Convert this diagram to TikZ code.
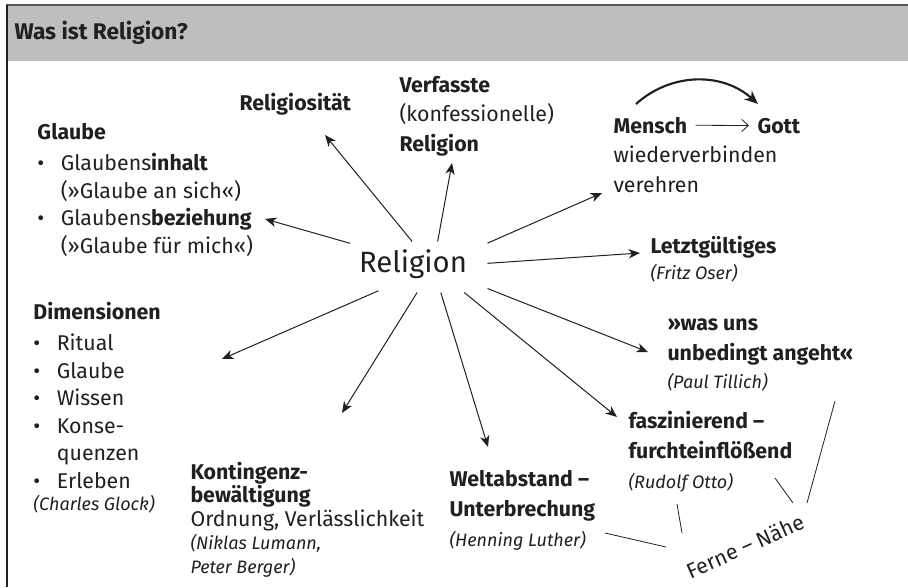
\documentclass[tikz,border=0pt]{standalone}
\usepackage{fontspec}
\setmainfont{Fira Sans}
\usetikzlibrary{arrows.meta}

\definecolor{headgrey}{RGB}{189,190,192}
\definecolor{frame}{RGB}{88,88,90}
\definecolor{ink}{RGB}{35,31,32}

\newcommand\bitem[1]{\makebox[17.5pt][l]{\textbullet}#1}
\newcommand\bcont[1]{\hspace*{17.5pt}#1}
\newcommand\quelle[1]{{\fontsize{13.5}{16}\selectfont\itshape #1}}

\tikzset{every picture/.style={line width=0.75pt}}
\tikzset{
  txt/.style={anchor=base west, inner sep=0pt, align=left, text=ink, font=\fontsize{16}{20.6}\selectfont},
  hubbox/.style={inner sep=0pt, minimum width=81pt, minimum height=37.5pt},
  spoke/.style={draw=ink, -{Stealth[length=8.5pt,width=7pt,inset=2.5pt]}},
  bow/.style={draw=ink, line width=1.6pt, -{Stealth[length=10pt,width=8.5pt,inset=3pt]}},
  thinarrow/.style={draw=ink, line width=0.6pt, -{Straight Barb[length=5pt,width=9pt]}},
  tie/.style={draw=ink, line width=0.6pt}
}

\begin{document}
\begin{tikzpicture}[x=0.75pt,y=0.75pt,yscale=-1,xscale=1]
	\useasboundingbox (0,0) rectangle (908,587);

	% Header band
	\fill[headgrey] (7,6) rectangle (908,61);
	\draw[frame, line width=1.6pt] (6,5) -- (908,5);
	\draw[ink, line width=1.1pt] (7,5) -- (7,587);
	\node[txt, font=\fontsize{17}{20}\selectfont\bfseries] (title) at (14,39) {Was ist Religion?};

	% Centre
	\node[text=ink, inner sep=0pt, font=\fontsize{22}{26}\selectfont] (rel) at (413,264) {Religion};
	\node[hubbox] (hub) at (433,267) {};

	% Text Node (placed by the baseline of the last line)
	\node[txt] (religiositaet) at (239,110) {\textbf{Religiosität}};
	% Text Node
	\node[txt, font=\fontsize{16}{22}\selectfont] (verfasste) at (399,151) {\textbf{Verfasste}\\(konfessionelle)\\\textbf{Religion}};
	% Text Node
	\node[txt] (glaube) at (37,253) {\textbf{Glaube}\\[2.6pt]\bitem{Glaubens\textbf{inhalt}}\\\bcont{(»Glaube an sich«)}\\\bitem{Glaubens\textbf{beziehung}}\\\bcont{(»Glaube für mich«)}};
	% Text Node
	\node[txt] (mensch) at (613,133) {\textbf{Mensch}};
	\node[txt] (gott) at (757,133) {\textbf{Gott}};
	\node[txt, font=\fontsize{16}{22}\selectfont] (verbinden) at (613,192) {wiederverbinden\\verehren};
	% Text Node
	\node[txt] (letzt) at (650,279) {\textbf{Letztgültiges}\\[-1.1pt]\quelle{(Fritz Oser)}};
	% Text Node
	\node[txt, font=\fontsize{16}{22.5}\selectfont] (wasuns) at (667,388) {\textbf{»was uns}\\\textbf{unbedingt angeht«}\\[-1.5pt]\quelle{(Paul Tillich)}};
	% Text Node
	\node[txt, font=\fontsize{16}{22.8}\selectfont] (fasz) at (628,488) {\textbf{faszinierend –}\\\textbf{furchteinflößend}\\[-1pt]\quelle{(Rudolf Otto)}};
	% Text Node
	\node[txt, font=\fontsize{16}{22.5}\selectfont] (welt) at (449,546) {\textbf{Weltabstand –}\\\textbf{Unterbrechung}\\[-0.7pt]\quelle{(Henning Luther)}};
	% Text Node
	\node[txt, font=\fontsize{16}{17.6}\selectfont] (kont) at (190,573) {\textbf{Kontingenz-}\\\textbf{bewältigung}\\Ordnung, Verlässlichkeit\\\quelle{(Niklas Lumann,}\\\quelle{Peter Berger)}};
	% Text Node
	\node[txt] (dimens) at (33,510) {\textbf{Dimensionen}\\[2.6pt]\bitem{Ritual}\\\bitem{Glaube}\\\bitem{Wissen}\\\bitem{Konse-}\\\bcont{quenzen}\\\bitem{Erleben}\\[-4.1pt]\quelle{(Charles Glock)}};
	% Text Node
	\node[text=ink, inner sep=0pt, rotate=24, font=\fontsize{16}{18}\selectfont] (ferne) at (745,546) {Ferne – Nähe};

	% Arrow tips
	\coordinate (h1) at (325,135);
	\coordinate (h2) at (452,163);
	\coordinate (h3) at (265,219);
	\coordinate (h4) at (602,193);
	\coordinate (h5) at (640,253);
	\coordinate (h6) at (648,352);
	\coordinate (h7) at (617,417);
	\coordinate (h8) at (488,447);
	\coordinate (h9) at (342,413);
	\coordinate (h10) at (222,359);

	% Spokes
	\draw[spoke] (hub) -- (h1);
	\draw[spoke] (hub) -- (h2);
	\draw[spoke, shorten <=22pt] (hub) -- (h3);
	\draw[spoke] (hub) -- (h4);
	\draw[spoke] (hub) -- (h5);
	\draw[spoke] (hub) -- (h6);
	\draw[spoke] (hub) -- (h7);
	\draw[spoke] (hub) -- (h8);
	\draw[spoke] (hub) -- (h9);
	\draw[spoke] (hub) -- (h10);

	% Mensch -> Gott
	\coordinate (bs) at (636,104);
	\coordinate (be) at (758,104);
	\draw[thinarrow, shorten <=6pt, shorten >=6pt] (mensch) -- (gott);
	\draw[bow] (bs) to[bend right=42] (be);

	% Ferne - Naehe ties
	\coordinate (nl) at (605,533);
	\coordinate (fe1) at (666,547);
	\coordinate (no) at (677,504);
	\coordinate (fe2) at (682,533);
	\coordinate (nf) at (775,478);
	\coordinate (fe3) at (793,503);
	\coordinate (nt) at (835,401);
	\coordinate (fe4) at (807,503);
	\draw[tie] (nl) -- (fe1);
	\draw[tie] (no) -- (fe2);
	\draw[tie] (nf) -- (fe3);
	\draw[tie] (nt) -- (fe4);
\end{tikzpicture}
\end{document}
